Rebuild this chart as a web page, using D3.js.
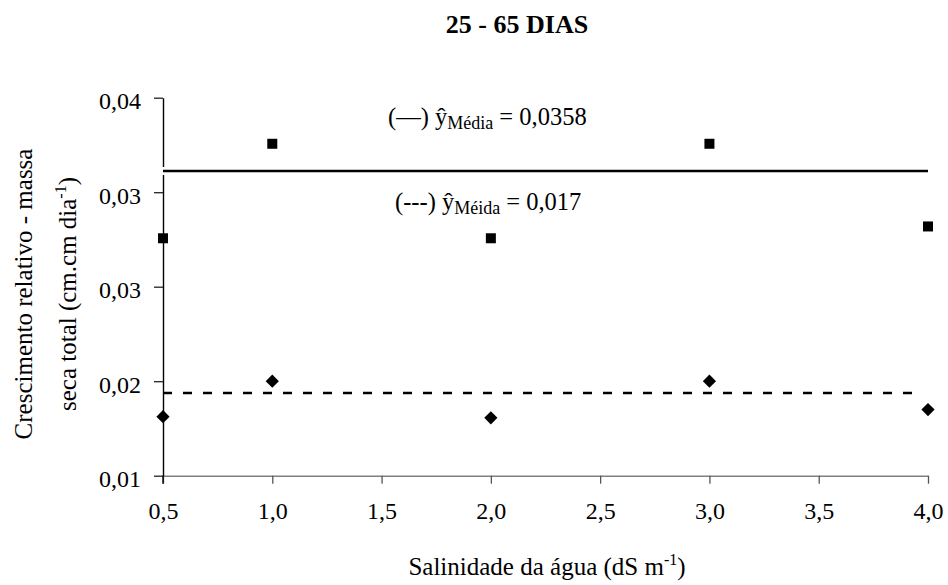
<!DOCTYPE html>
<html>
<head>
<meta charset="utf-8">
<script src="https://cdn.jsdelivr.net/npm/d3@7/dist/d3.min.js"></script>
</head>
<body style="margin:0;background:#fff">
<svg id="chart" width="948" height="585" font-family="Liberation Serif"></svg>
<script>
// Salinity levels (dS m-1)
const salinity = [0.5, 1.0, 2.0, 3.0, 4.0];
// Relative growth rate, total dry mass (two series)
const seriesSquare  = [0.0301, 0.0381, 0.0301, 0.0381, 0.0311];
const seriesDiamond = [0.0150, 0.0180, 0.0149, 0.0180, 0.0156];
// Fitted means
const meanSquare = 0.0358;
const meanDiamond = 0.017;

// Axis ticks
const xTicks = [0.5, 1.0, 1.5, 2.0, 2.5, 3.0, 3.5, 4.0];
const xTickLabels = ["0,5", "1,0", "1,5", "2,0", "2,5", "3,0", "3,5", "4,0"];
const yTicks = [0.010, 0.018, 0.026, 0.034, 0.042];
const yTickLabels = ["0,01", "0,02", "0,03", "0,03", "0,04"];

const FONT = "Liberation Serif";

const svg = d3.select("#chart");

const plot = { left: 163, right: 928, top: 97.7, bottom: 475.7 };

const x = d3.scaleLinear().domain([0.5, 4.0]).range([plot.left, plot.right]);
const y = d3.scaleLinear().domain([0.010, 0.042]).range([plot.bottom, plot.top]);

// Title
svg.append("text")
  .attr("x", 517).attr("y", 33)
  .attr("text-anchor", "middle")
  .style("font-family", FONT)
  .style("font-size", "26px").style("font-weight", "bold")
  .text("25 - 65 DIAS");

// X axis
const xAxis = svg.append("g")
  .attr("transform", `translate(0,${plot.bottom})`)
  .call(d3.axisBottom(x).tickValues(xTicks)
    .tickFormat((d, i) => xTickLabels[i])
    .tickSize(8).tickPadding(18).tickSizeOuter(0));
xAxis.attr("font-family", null).attr("font-size", null);
xAxis.select(".domain").attr("stroke", "#808080").attr("stroke-width", 1.6);
xAxis.selectAll(".tick line").attr("stroke", "#555").attr("stroke-width", 1.3);
xAxis.selectAll(".tick text")
  .style("font-family", FONT).style("font-size", "24px").attr("fill", "#000");

// Y axis
const yAxis = svg.append("g")
  .attr("transform", `translate(${plot.left},0)`)
  .call(d3.axisLeft(y).tickValues(yTicks)
    .tickFormat((d, i) => yTickLabels[i])
    .tickSize(9).tickPadding(13).tickSizeOuter(0));
yAxis.attr("font-family", null).attr("font-size", null);
yAxis.select(".domain").attr("stroke", "#000").attr("stroke-width", 1.4);
yAxis.selectAll(".tick line").attr("stroke", "#222").attr("stroke-width", 1.3);
yAxis.selectAll(".tick text")
  .style("font-family", FONT).style("font-size", "24px").attr("fill", "#000")
  .attr("dy", "0.45em");
// vertical axis runs a little below the horizontal axis, like a tick
svg.append("line")
  .attr("x1", plot.left).attr("x2", plot.left)
  .attr("y1", plot.bottom).attr("y2", plot.bottom + 8)
  .attr("stroke", "#000").attr("stroke-width", 1.4);

// Mean lines (the solid one carries a thin white edge)
svg.append("line")
  .attr("x1", x(0.5) - 2).attr("x2", x(4.0))
  .attr("y1", y(meanSquare)).attr("y2", y(meanSquare))
  .attr("stroke", "#fff").attr("stroke-width", 8);
svg.append("line")
  .attr("x1", x(0.5)).attr("x2", x(4.0))
  .attr("y1", y(meanSquare)).attr("y2", y(meanSquare))
  .attr("stroke", "#000").attr("stroke-width", 2.6);
svg.append("line")
  .attr("x1", x(0.5)).attr("x2", x(3.94))
  .attr("y1", y(meanDiamond)).attr("y2", y(meanDiamond))
  .attr("stroke", "#000").attr("stroke-width", 2.6)
  .attr("stroke-dasharray", "9,11");

// Markers
const sq = 10;
svg.append("g").selectAll("rect")
  .data(salinity.map((s, i) => [s, seriesSquare[i]]))
  .join("rect")
  .attr("x", d => x(d[0]) - sq / 2)
  .attr("y", d => y(d[1]) - sq / 2)
  .attr("width", sq).attr("height", sq)
  .attr("fill", "#000");

const dia = 6.6;
svg.append("g").selectAll("path")
  .data(salinity.map((s, i) => [s, seriesDiamond[i]]))
  .join("path")
  .attr("d", d => {
    const cx = x(d[0]), cy = y(d[1]);
    return `M${cx},${cy - dia}L${cx + dia},${cy}L${cx},${cy + dia}L${cx - dia},${cy}Z`;
  })
  .attr("fill", "#000");

// Mean annotations
function annotate(xp, yp, prefix, sub, value) {
  const t = svg.append("text").attr("x", xp).attr("y", yp)
    .style("font-family", FONT).style("font-size", "24.5px");
  t.append("tspan").text(prefix + " ŷ");
  t.append("tspan").style("font-size", "18px").attr("dy", 4).text(sub);
  t.append("tspan").attr("dy", -4).text(" = " + value);
}
annotate(388, 125, "(—)", "Média", d3.format(".4f")(meanSquare).replace(".", ","));
annotate(395, 210, "(---)", "Méida", d3.format(".3f")(meanDiamond).replace(".", ","));

// Axis titles
svg.append("text")
  .attr("x", 547).attr("y", 575)
  .attr("text-anchor", "middle")
  .style("font-family", FONT).style("font-size", "25px")
  .call(t => {
    t.append("tspan").text("Salinidade da água (dS m");
    t.append("tspan").style("font-size", "16px").attr("dy", -10).text("-1");
    t.append("tspan").attr("dy", 10).text(")");
  });

const yTitle = svg.append("g").attr("transform", "translate(0,294) rotate(-90)");
yTitle.append("text")
  .attr("x", 0).attr("y", 32)
  .attr("text-anchor", "middle")
  .style("font-family", FONT).style("font-size", "25px")
  .text("Crescimento relativo - massa");
yTitle.append("text")
  .attr("x", 0).attr("y", 76)
  .attr("text-anchor", "middle")
  .style("font-family", FONT).style("font-size", "25px")
  .call(t => {
    t.append("tspan").text("seca total (cm.cm dia");
    t.append("tspan").style("font-size", "16px").attr("dy", -10).text("-1");
    t.append("tspan").attr("dy", 10).text(")");
  });
</script>
</body>
</html>
